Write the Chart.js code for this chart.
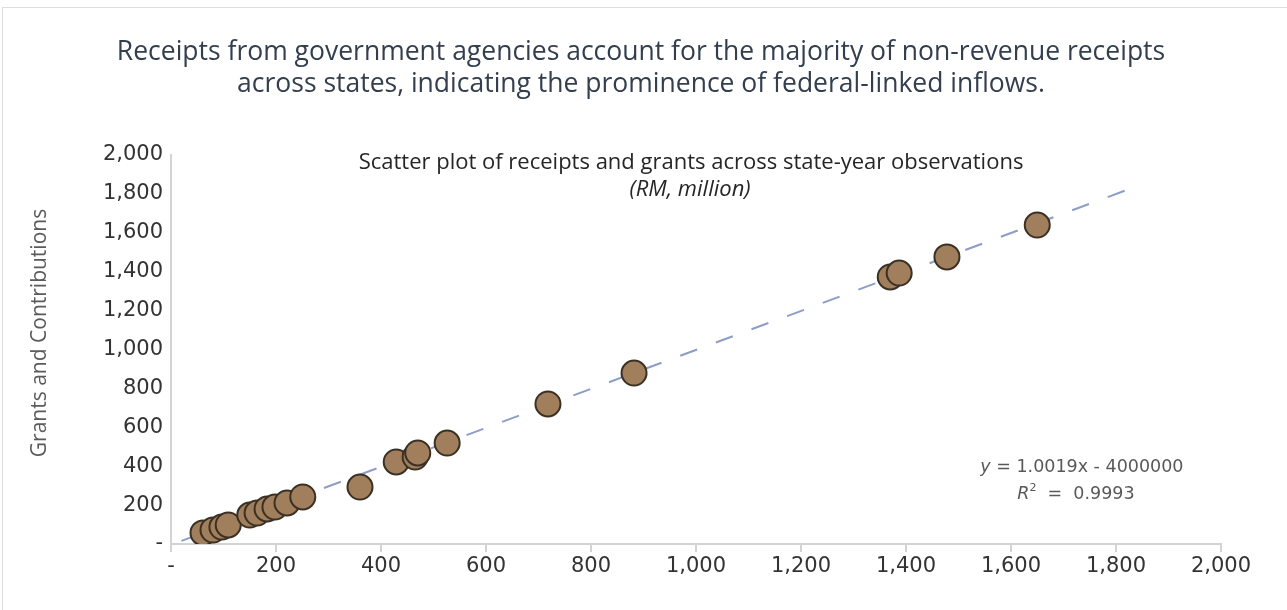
<!DOCTYPE html>
<html>
<head>
<meta charset="utf-8">
<title>Receipts and grants scatter</title>
<script src="https://cdn.jsdelivr.net/npm/chart.js@4.4.1/dist/chart.umd.min.js"></script>
<style>
  html, body { margin: 0; padding: 0; background: #fff; }
  #frame { position: absolute; left: 2px; top: 7px; width: 1300px; height: 620px; border: 1px solid #dedede; }
  #wrap { position: absolute; left: 0; top: 0; width: 1287px; height: 610px; }
</style>
</head>
<body>
<div id="frame"></div>
<div id="wrap"><canvas id="scatterChart" width="1287" height="610"></canvas></div>
<script>
// --- DATA (RM, million) ---
// one entry per state-year observation
const receipts = [61, 80, 97, 109, 150, 164, 183, 198, 221, 251, 360, 429, 465, 470, 526, 718, 882, 1370, 1387, 1478, 1650];
const grants   = [57, 72, 87, 98, 149, 159, 180, 190, 211, 242, 293, 422, 447, 468, 519, 720, 879, 1373, 1393, 1476, 1640];

// linear trendline as stated on the chart: y = 1.0019x - 4,000,000 (RM) -> -4 (RM million)
const trendSlope = 1.0019;
const trendIntercept = -4;
const trendRange = [20, 1850];
const rSquared = 0.9993;

const axisMax = 2000;
const tickStep = 200;

const titleLines = [
  "Receipts from government agencies account for the majority of non-revenue receipts",
  "across states, indicating the prominence of federal-linked inflows."
];
const plotHeading = "Scatter plot of receipts and grants across state-year observations";
const plotUnits = "(RM, million)";
const yTitle = "Grants and Contributions";

// --- BUILD DATASETS ---
const points = receipts.map((x, i) => ({ x: x, y: grants[i] }));
const trend = trendRange.map(x => ({ x: x, y: trendSlope * x + trendIntercept }));

// 0 shows as a dash, the rest with thousands separators
function fmtTick(v) {
  return v === 0 ? "-" : Number(v).toLocaleString("en-US");
}

// draws a line made of differently styled pieces, centred on cx
function drawPieces(ctx, pieces, cx, cy) {
  let total = 0;
  pieces.forEach(p => { ctx.font = p.font; p.w = ctx.measureText(p.text).width; total += p.w; });
  let x = cx - total / 2;
  pieces.forEach(p => {
    ctx.font = p.font;
    ctx.fillText(p.text, x, cy + (p.dy || 0));
    x += p.w;
  });
}

// --- TITLES AND NOTES ---
const chartText = {
  id: "chartText",
  afterDraw(chart) {
    const ctx = chart.ctx;
    const xs = chart.scales.x;
    const ys = chart.scales.y;
    ctx.save();
    ctx.textAlign = "center";
    ctx.textBaseline = "middle";

    // headline across the top
    ctx.fillStyle = "#333e4e";
    ctx.font = '26.5px "Open Sans"';
    ctx.fillText(titleLines[0], 641, 52);
    ctx.fillText(titleLines[1], 641, 84);

    // rotated axis title
    ctx.save();
    ctx.translate(40, 333);
    ctx.rotate(-Math.PI / 2);
    ctx.fillStyle = "#5b5b5b";
    ctx.font = '21px "Open Sans"';
    ctx.fillText(yTitle, 0, 0);
    ctx.restore();

    // heading in the top of the plot
    ctx.fillStyle = "#262626";
    ctx.font = '22px "Open Sans"';
    ctx.fillText(plotHeading, 691, 163);
    ctx.font = 'italic 22px "Open Sans"';
    ctx.fillText(plotUnits, 690, 190);

    // trendline equation
    ctx.fillStyle = "#595959";
    ctx.textAlign = "left";
    const cx = xs.getPixelForValue(1735);
    const y1 = ys.getPixelForValue(395);
    drawPieces(ctx, [
      { text: "y", font: 'italic 17.5px "DejaVu Sans"' },
      { text: " = " + trendSlope.toFixed(4) + "x - 4000000", font: '17.5px "DejaVu Sans"' }
    ], cx, y1);
    drawPieces(ctx, [
      { text: "R", font: 'italic 17.5px "DejaVu Sans"' },
      { text: "2", font: '11px "DejaVu Sans"', dy: -6 },
      { text: "  =  " + rSquared.toFixed(4), font: '17.5px "DejaVu Sans"' }
    ], cx - 6, y1 + 27);

    ctx.restore();
  }
};

const axisColor = "#d3d3d3";
const tickFont = { family: "DejaVu Sans", size: 21 };

const ctx = document.getElementById("scatterChart").getContext("2d");
new Chart(ctx, {
  type: "scatter",
  data: {
    datasets: [
      {
        label: "Observations",
        data: points,
        backgroundColor: "#a17f5c",
        borderColor: "#3a3024",
        borderWidth: 2,
        pointRadius: 12.5,
        pointHoverRadius: 12.5,
        order: 0
      },
      {
        type: "line",
        label: "Linear trend",
        data: trend,
        borderColor: "#8c9dc7",
        borderWidth: 2,
        borderDash: [18, 20],
        pointRadius: 0,
        fill: false,
        order: 1
      }
    ]
  },
  options: {
    responsive: false,
    animation: false,
    layout: { padding: { left: 0, right: 66, top: 155, bottom: 0 } },
    plugins: {
      legend: { display: false },
      tooltip: { enabled: false },
      title: { display: false }
    },
    scales: {
      x: {
        type: "linear",
        min: 0,
        max: axisMax,
        ticks: { stepSize: tickStep, callback: fmtTick, color: "#333", font: tickFont, padding: 2, maxRotation: 0, autoSkip: false },
        grid: { display: true, drawOnChartArea: false, drawTicks: true, tickLength: 8, color: axisColor, lineWidth: 2 },
        border: { display: true, color: axisColor, width: 2 },
        afterFit(scale) { scale.height = 66; }
      },
      y: {
        min: 0,
        max: axisMax,
        ticks: { stepSize: tickStep, callback: fmtTick, color: "#333", font: tickFont, padding: 0 },
        grid: { display: false },
        border: { display: true, color: axisColor, width: 2 },
        afterFit(scale) { scale.width = 171; }
      }
    }
  },
  plugins: [chartText]
});
</script>
</body>
</html>
